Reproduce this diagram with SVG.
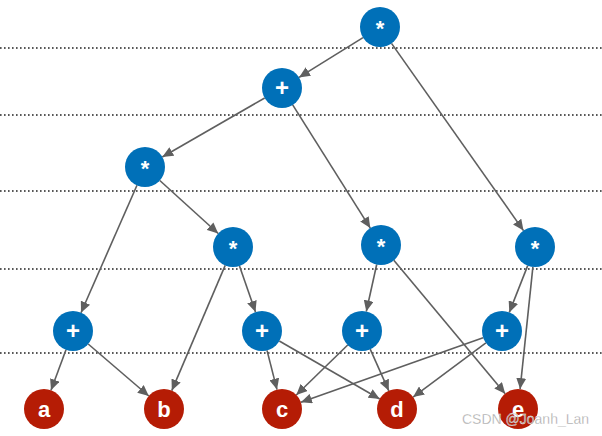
<svg xmlns="http://www.w3.org/2000/svg" width="602" height="436" viewBox="0 0 602 436">
<style>
.grid{stroke:#222;stroke-width:1.6;stroke-dasharray:1.6 2.4;fill:none}
.e{stroke:#5f5f5f;stroke-width:1.6;fill:none;marker-end:url(#ah)}
.op circle{fill:#0070b8}
.lf circle{fill:#b51c05}
text.n{font-family:"Liberation Sans",Arial,sans-serif;font-weight:bold;fill:#fff;text-anchor:middle}
</style>
<defs>
<marker id="ah" markerUnits="userSpaceOnUse" markerWidth="12" markerHeight="10" refX="11" refY="5" orient="auto">
<path d="M0,0 L11,5 L0,10 Z" fill="#5f5f5f"/>
</marker>
</defs>
<rect width="602" height="436" fill="#fff"/>
<g id="gridlines">
<line class="grid" x1="0" y1="48" x2="602" y2="48"/>
<line class="grid" x1="0" y1="115" x2="602" y2="115"/>
<line class="grid" x1="0" y1="191" x2="602" y2="191"/>
<line class="grid" x1="0" y1="269" x2="602" y2="269"/>
<line class="grid" x1="0" y1="353" x2="602" y2="353"/>
</g>
<g id="connectors">
<line class="e" x1="363" y1="37.6" x2="299" y2="77.4"/>
<line class="e" x1="391.5" y1="43.4" x2="523.5" y2="230.6"/>
<line class="e" x1="264.7" y1="98" x2="162.3" y2="157"/>
<line class="e" x1="292.7" y1="104.9" x2="370.3" y2="228.1"/>
<line class="e" x1="137" y1="185.3" x2="81" y2="312.7"/>
<line class="e" x1="159.8" y1="180.5" x2="218.2" y2="233.5"/>
<line class="e" x1="225.2" y1="265.4" x2="171.8" y2="390.6"/>
<line class="e" x1="239.5" y1="265.9" x2="255.5" y2="312.1"/>
<line class="e" x1="376.7" y1="264.5" x2="366.3" y2="311.5"/>
<line class="e" x1="393.8" y1="260.3" x2="505.2" y2="393.7"/>
<line class="e" x1="527.7" y1="265.6" x2="509.3" y2="312.4"/>
<line class="e" x1="532.9" y1="266.9" x2="520.1" y2="389.1"/>
<line class="e" x1="66" y1="349.7" x2="51" y2="390.3"/>
<line class="e" x1="88.2" y1="344" x2="148.8" y2="396"/>
<line class="e" x1="267" y1="350.4" x2="277" y2="389.6"/>
<line class="e" x1="279.3" y1="341" x2="379.7" y2="399"/>
<line class="e" x1="347.7" y1="345" x2="296.3" y2="395"/>
<line class="e" x1="370.2" y1="349.2" x2="388.8" y2="390.8"/>
<line class="e" x1="483.1" y1="337.7" x2="300.9" y2="402.3"/>
<line class="e" x1="485.9" y1="342.9" x2="413.1" y2="397.1"/>
</g>
<g id="n_mul_root" class="op"><circle cx="380" cy="27" r="20"/><text class="n" x="380" y="36" font-size="22">*</text></g>
<g id="n_add_1" class="op"><circle cx="282" cy="88" r="20"/><text class="n" x="282" y="96" font-size="24">+</text></g>
<g id="n_mul_1" class="op"><circle cx="145" cy="167" r="20"/><text class="n" x="145" y="176" font-size="22">*</text></g>
<g id="n_mul_2" class="op"><circle cx="233" cy="247" r="20"/><text class="n" x="233" y="256" font-size="22">*</text></g>
<g id="n_mul_3" class="op"><circle cx="381" cy="245" r="20"/><text class="n" x="381" y="254" font-size="22">*</text></g>
<g id="n_mul_4" class="op"><circle cx="535" cy="247" r="20"/><text class="n" x="535" y="256" font-size="22">*</text></g>
<g id="n_add_a" class="op"><circle cx="73" cy="331" r="20"/><text class="n" x="73" y="339" font-size="24">+</text></g>
<g id="n_add_b" class="op"><circle cx="262" cy="331" r="20"/><text class="n" x="262" y="339" font-size="24">+</text></g>
<g id="n_add_c" class="op"><circle cx="362" cy="331" r="20"/><text class="n" x="362" y="339" font-size="24">+</text></g>
<g id="n_add_d" class="op"><circle cx="502" cy="331" r="20"/><text class="n" x="502" y="339" font-size="24">+</text></g>
<g id="n_a" class="lf"><circle cx="44" cy="409" r="20"/><text class="n" x="44" y="417" font-size="22">a</text></g>
<g id="n_b" class="lf"><circle cx="164" cy="409" r="20"/><text class="n" x="164" y="417" font-size="22">b</text></g>
<g id="n_c" class="lf"><circle cx="282" cy="409" r="20"/><text class="n" x="282" y="417" font-size="22">c</text></g>
<g id="n_d" class="lf"><circle cx="397" cy="409" r="20"/><text class="n" x="397" y="417" font-size="22">d</text></g>
<g id="n_e" class="lf"><circle cx="518" cy="409" r="20"/><text class="n" x="518" y="417" font-size="22">e</text></g>
<text x="462" y="424" font-family="Liberation Sans,Arial,sans-serif" font-size="14" fill="#9a9a9a" stroke="#fff" stroke-width="0.3" fill-opacity="0.9">CSDN @Joanh_Lan</text>
</svg>
